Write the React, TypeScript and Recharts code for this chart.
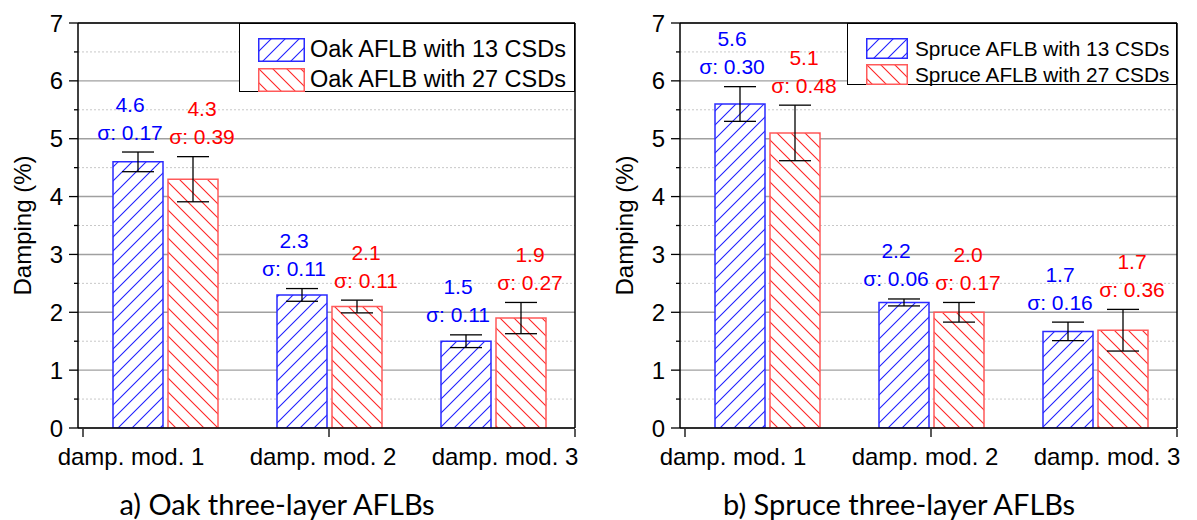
import React from "react";
import { BarChart, Bar, XAxis, YAxis, CartesianGrid, ErrorBar, LabelList } from "recharts";

const categories = ["damp. mod. 1", "damp. mod. 2", "damp. mod. 3"];

const oak13 = [4.6, 2.3, 1.5];
const oak13Sd = [0.17, 0.11, 0.11];
const oak27 = [4.3, 2.1, 1.9];
const oak27Sd = [0.39, 0.11, 0.27];

const spruce13 = [5.6, 2.17, 1.67];
const spruce13Sd = [0.3, 0.06, 0.16];
const spruce27 = [5.1, 2.0, 1.69];
const spruce27Sd = [0.48, 0.17, 0.36];

const yTicks = [0, 0.5, 1, 1.5, 2, 2.5, 3, 3.5, 4, 4.5, 5, 5.5, 6, 6.5, 7];
const originTicks = [0, 1, 2, 3];

const FONT = "'Liberation Sans', Arial, sans-serif";
const BLUE = "#0000ff";
const RED = "#ff0000";

// Origin placed the category labels by hand, not centred on the groups
const labelShift = [-34, -6, 12];

const YTick = (p: any) => {
  const v = p.payload.value;
  const major = Number.isInteger(v);
  return (
    <g>
      <line x1={p.x - (major ? 9 : 4)} x2={p.x} y1={p.y} y2={p.y} stroke="#000" strokeWidth={1.3} />
      {major && (
        <text x={p.x - 15} y={p.y} textAnchor="end" dominantBaseline="central" fontSize={24} fontFamily={FONT} fill="#000">
          {v}
        </text>
      )}
    </g>
  );
};

const XTick = (p: any) => (
  <text
    x={p.x + labelShift[p.index]}
    y={p.y + 28}
    textAnchor="middle"
    dominantBaseline="central"
    fontSize={24}
    fontFamily={FONT}
    fill="#000"
  >
    {p.payload.value}
  </text>
);

const NoTick = () => <g />;

const YLabel = (p: any) => {
  const vb = p.viewBox || {};
  const cy = vb.y + vb.height / 2;
  return (
    <text
      x={22}
      y={cy}
      transform={`rotate(-90, 22, ${cy})`}
      textAnchor="middle"
      dominantBaseline="central"
      fontSize={24}
      fontFamily={FONT}
      fill="#000"
    >
      Damping (%)
    </text>
  );
};

const gridLine = (p: any) => {
  const major = p.index % 2 === 0;
  return (
    <line
      key={p.key}
      x1={p.x1}
      x2={p.x2}
      y1={p.y1}
      y2={p.y2}
      stroke={major ? "#a0a0a0" : "#c8c8c8"}
      strokeWidth={major ? 1.4 : 1}
      strokeDasharray={major ? undefined : "2 2"}
    />
  );
};

const makeLabel = (sds: number[], color: string, shift: number) => (p: any) => {
  const vb = p.viewBox || p;
  const x = Number(vb.x ?? p.x);
  const y = Number(vb.y ?? p.y);
  const w = Number(vb.width ?? p.width);
  const h = Number(vb.height ?? p.height);
  const v = Number(p.value);
  const sd = sds[p.index];
  const top = y - sd * (h / v);
  const cx = x + w / 2 + shift;
  return (
    <g fontSize={21} fontFamily={FONT} fill={color} textAnchor="middle">
      <text x={cx} y={top - 48} dominantBaseline="central">
        {v.toFixed(1)}
      </text>
      <text x={cx} y={top - 20} dominantBaseline="central">
        {"σ: " + sd.toFixed(2)}
      </text>
    </g>
  );
};

const H = 14;

const Hatch = ({ id }: { id: string }) => (
  <defs>
    <pattern id={`${id}-b`} patternUnits="userSpaceOnUse" width={H} height={H}>
      <rect width={H} height={H} fill="#fff" />
      <path d={`M-1,1 l2,-2 M0,${H} l${H},-${H} M${H - 1},${H + 1} l2,-2`} style={{ stroke: "#1f1fff", strokeWidth: 1.1, fill: "none" }} />
    </pattern>
    <pattern id={`${id}-r`} patternUnits="userSpaceOnUse" width={H} height={H}>
      <rect width={H} height={H} fill="#fff" />
      <path d={`M-1,${H - 1} l2,2 M0,0 l${H},${H} M${H - 1},-1 l2,2`} style={{ stroke: "#ff2424", strokeWidth: 1.1, fill: "none" }} />
    </pattern>
  </defs>
);

type LegendGeom = { left: number; width: number; height: number; sw: number; sh: number; tx: number; font: number; row2: number };

const Panel = ({
  id,
  left,
  s13,
  s13Sd,
  s27,
  s27Sd,
  names,
  lg,
  caption,
  captionX,
}: {
  id: string;
  left: number;
  s13: number[];
  s13Sd: number[];
  s27: number[];
  s27Sd: number[];
  names: string[];
  lg: LegendGeom;
  caption: string;
  captionX: number;
}) => {
  const data = categories.map((c, i) => ({ cat: c, a: s13[i], aSd: s13Sd[i], b: s27[i], bSd: s27Sd[i] }));
  return (
    <div style={{ position: "absolute", left, top: 0, width: 600, height: 520 }}>
      <BarChart width={600} height={480} data={data} barGap={5} margin={{ top: 22, right: 24, left: 18, bottom: 50 }}>
        <Hatch id={id} />
        <CartesianGrid vertical={false} horizontal={gridLine} />
        <XAxis
          dataKey="cat"
          height={1}
          padding={{ left: 5, right: 0 }}
          tickSize={0}
          tickMargin={0}
          tickLine={false}
          tick={XTick}
          axisLine={{ stroke: "#000", strokeWidth: 1.5 }}
          interval={0}
        />
        <XAxis
          xAxisId="o"
          type="number"
          domain={[0, 3.6]}
          ticks={originTicks}
          interval={0}
          padding={{ left: 5, right: 0 }}
          height={1}
          tick={NoTick}
          tickSize={8}
          tickLine={{ stroke: "#000", strokeWidth: 1.3 }}
          axisLine={false}
          allowDataOverflow
        />
        <XAxis
          xAxisId="t"
          dataKey="cat"
          orientation="top"
          height={1}
          tick={false}
          tickLine={false}
          axisLine={{ stroke: "#000", strokeWidth: 1.5 }}
        />
        <YAxis
          domain={[0, 7]}
          ticks={yTicks}
          interval={0}
          width={60}
          tickSize={0}
          tickMargin={0}
          tickLine={false}
          tick={YTick}
          axisLine={{ stroke: "#000", strokeWidth: 1.5 }}
          allowDataOverflow
          label={YLabel}
        />
        <YAxis
          yAxisId="r"
          orientation="right"
          type="number"
          domain={[0, 7]}
          width={1}
          tick={false}
          tickLine={false}
          axisLine={{ stroke: "#000", strokeWidth: 1.5 }}
        />
        <Bar dataKey="a" name={names[0]} barSize={50} fill={`url(#${id}-b)`} stroke="#2a2aff" strokeWidth={1.5} isAnimationActive={false}>
          <ErrorBar dataKey="aSd" width={16} stroke="#000" strokeWidth={1.3} direction="y" isAnimationActive={false} />
          <LabelList dataKey="a" content={makeLabel(s13Sd, BLUE, -8)} />
        </Bar>
        <Bar dataKey="b" name={names[1]} barSize={50} fill={`url(#${id}-r)`} stroke="#ff5a5a" strokeWidth={1.5} isAnimationActive={false}>
          <ErrorBar dataKey="bSd" width={16} stroke="#000" strokeWidth={1.3} direction="y" isAnimationActive={false} />
          <LabelList dataKey="b" content={makeLabel(s27Sd, RED, 9)} />
        </Bar>
      </BarChart>

      <div
        style={{
          position: "absolute",
          left: lg.left,
          top: 23,
          width: lg.width,
          height: lg.height,
          border: "1px solid #000",
          boxSizing: "border-box",
          background: "#fff",
          fontFamily: FONT,
          fontSize: lg.font,
        }}
      >
        {names.map((n, i) => (
          <div key={n} style={{ position: "absolute", left: 0, top: i === 0 ? 14 : lg.row2, height: lg.sh, width: lg.width }}>
            <svg width={lg.sw} height={lg.sh} style={{ position: "absolute", left: 18, top: 0 }}>
              <rect
                x={0.75}
                y={0.75}
                width={lg.sw - 1.5}
                height={lg.sh - 1.5}
                fill={`url(#${id}-${i === 0 ? "b" : "r"})`}
                stroke={i === 0 ? "#2a2aff" : "#ff5a5a"}
                strokeWidth={1.5}
              />
            </svg>
            <span style={{ position: "absolute", left: lg.tx, top: lg.sh / 2, transform: "translateY(-50%)", whiteSpace: "nowrap", lineHeight: 1 }}>
              {n}
            </span>
          </div>
        ))}
      </div>

      <div
        style={{
          position: "absolute",
          left: captionX,
          top: 489,
          transform: "translateX(-50%)",
          whiteSpace: "nowrap",
          fontFamily: "Lato, 'Open Sans', sans-serif",
          fontSize: 29,
          lineHeight: "29px",
          color: "#000",
        }}
      >
        {caption}
      </div>
    </div>
  );
};

export default function App() {
  return (
    <div style={{ position: "absolute", left: 0, top: 0, width: 1197, height: 520, background: "#fff" }}>
      <Panel
        id="oak"
        left={0}
        s13={oak13}
        s13Sd={oak13Sd}
        s27={oak27}
        s27Sd={oak27Sd}
        names={["Oak AFLB with 13 CSDs", "Oak AFLB with 27 CSDs"]}
        lg={{ left: 239, width: 336, height: 69, sw: 47, sh: 24, tx: 70, font: 23.5, row2: 44 }}
        caption="a) Oak three-layer AFLBs"
        captionX={277}
      />
      <Panel
        id="spruce"
        left={602}
        s13={spruce13}
        s13Sd={spruce13Sd}
        s27={spruce27}
        s27Sd={spruce27Sd}
        names={["Spruce AFLB with 13 CSDs", "Spruce AFLB with 27 CSDs"]}
        lg={{ left: 245, width: 330, height: 62, sw: 42, sh: 21, tx: 67, font: 20.8, row2: 40 }}
        caption="b) Spruce three-layer AFLBs"
        captionX={297}
      />
    </div>
  );
}
